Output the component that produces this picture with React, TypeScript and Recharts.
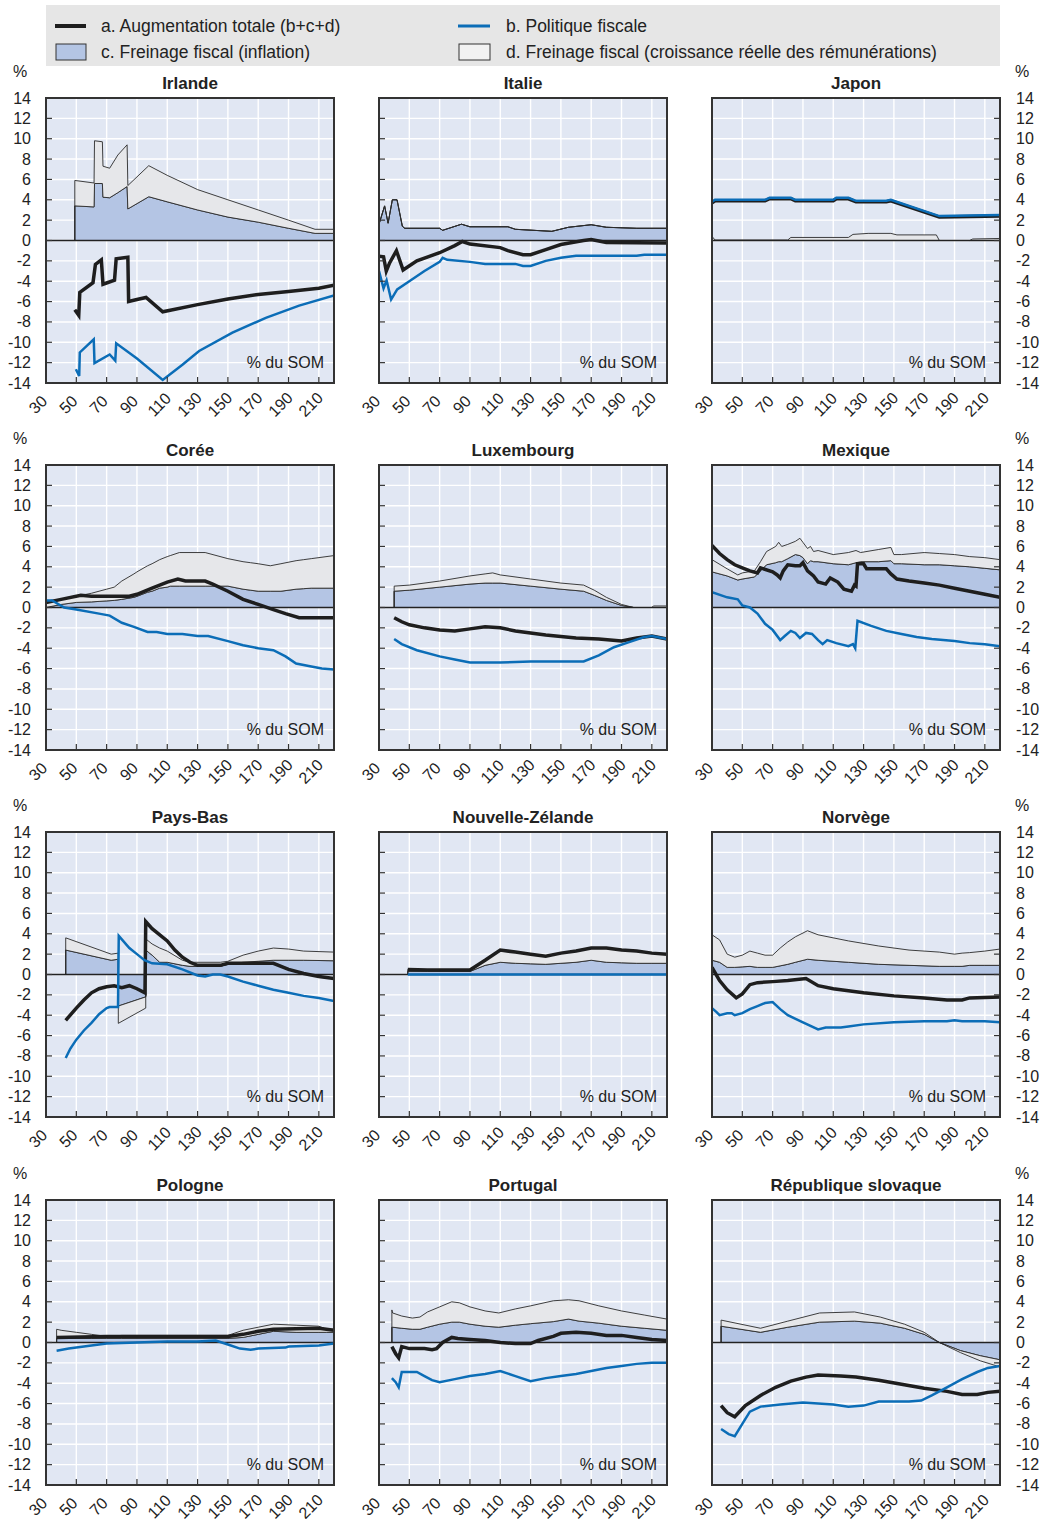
import React from 'react';
import { ComposedChart, Area, Line, XAxis, YAxis, CartesianGrid, ReferenceLine } from 'recharts';

// ---- shared axis values ----
const X_TICKS = [30, 50, 70, 90, 110, 130, 150, 170, 190, 210];
const Y_TICKS = [-14, -12, -10, -8, -6, -4, -2, 0, 2, 4, 6, 8, 10, 12, 14];

type Pair = [number, number];

// ---- Irlande ----
const irlAreaX = [49, 49, 61.7, 62, 67.2, 67.6, 72, 77.4, 83.5, 84, 97.8, 110, 130, 150, 170, 190, 207.5, 220];
const irlC = [0, 3.4, 3.3, 5.6, 5.6, 4.25, 4.2, 4.7, 5.3, 3.1, 4.3, 3.8, 3.0, 2.3, 1.8, 1.2, 0.7, 0.7];
const irlCD = [0, 5.9, 5.65, 9.8, 9.7, 7.3, 7.1, 8.4, 9.4, 5.4, 7.35, 6.4, 5.0, 4.0, 3.0, 2.0, 1.1, 1.1];
const irlA: Pair[] = [[49, -6.8], [51.6, -7.35], [52.3, -5.1], [61, -4.15], [62.6, -2.35], [66.5, -1.9], [67.6, -4.3], [75.2, -3.9], [76.3, -1.8], [84, -1.65], [84.5, -6.0], [90, -5.8], [96, -5.6], [107, -7.0], [130, -6.3], [150, -5.75], [170, -5.3], [190, -5.0], [210, -4.7], [220, -4.4]];
const irlB: Pair[] = [[49.7, -12.65], [51.9, -13.3], [52.3, -11.0], [61.5, -9.7], [62, -12.05], [72, -11.2], [75.7, -11.8], [76.3, -10.1], [90, -11.6], [107, -13.7], [120, -12.2], [131, -10.85], [153, -9.05], [175, -7.6], [197, -6.4], [220, -5.4]];

// ---- Italie ----
const itaAreaX = [30, 33.7, 36, 38.8, 41.9, 45.4, 47, 70, 72, 84.4, 90, 115, 120, 144, 155, 170, 180, 200, 220];
const itaC = [1.6, 3.4, 1.7, 4.0, 4.0, 1.4, 1.2, 1.2, 1.0, 1.6, 1.35, 1.35, 1.1, 0.9, 1.3, 1.55, 1.3, 1.2, 1.2];
const itaCD = [1.6, 3.4, 1.7, 4.0, 4.0, 1.4, 1.2, 1.2, 1.0, 1.6, 1.35, 1.35, 1.1, 0.9, 1.3, 1.55, 1.3, 1.2, 1.2];
const itaA: Pair[] = [[30, -1.55], [33, -1.6], [34.8, -3.0], [37, -2.2], [41.5, -1.0], [45.9, -2.9], [55, -2.0], [70, -1.2], [80, -0.5], [85, -0.1], [90, -0.35], [110, -0.7], [115, -1.0], [125, -1.4], [130, -1.4], [140, -0.9], [150, -0.4], [165, 0.0], [170, 0.1], [180, -0.2], [220, -0.25]];
const itaB: Pair[] = [[30, -3.0], [33, -4.7], [35, -3.9], [38, -5.8], [42, -4.8], [50, -4.0], [60, -3.0], [70, -2.1], [72, -1.7], [75, -1.9], [90, -2.1], [100, -2.3], [120, -2.3], [125, -2.5], [130, -2.5], [140, -2.0], [150, -1.7], [160, -1.5], [200, -1.5], [205, -1.4], [220, -1.4]];

// ---- Japon ----
const jpnAreaX = [30, 32, 80, 82, 120, 123, 133, 148, 152, 178, 180, 200, 202, 220];
const jpnC = [0, 0, 0, 0, 0, 0, 0, 0, 0, 0, 0, 0, 0, 0];
const jpnCD = [0.4, 0.05, 0.05, 0.3, 0.3, 0.6, 0.7, 0.7, 0.55, 0.55, 0, 0, 0.15, 0.2];
const jpnA: Pair[] = [[30, 3.7], [32, 3.9], [65, 3.9], [68, 4.1], [82, 4.1], [85, 3.9], [110, 3.9], [112, 4.1], [120, 4.1], [125, 3.8], [145, 3.8], [148, 3.9], [180, 2.3], [220, 2.4]];
const jpnB: Pair[] = [[30, 3.8], [32, 4.0], [65, 4.0], [68, 4.2], [82, 4.2], [85, 4.0], [110, 4.0], [112, 4.2], [120, 4.2], [125, 3.9], [145, 3.9], [148, 4.0], [180, 2.4], [220, 2.5]];

// ---- Corée ----
const korAreaX = [30, 40, 50, 60, 65, 70, 75, 80, 88, 90, 97, 100, 105, 110, 112, 118, 135, 150, 160, 165, 170, 178, 185, 195, 200, 205, 220];
const korC = [0.0, 0.3, 0.5, 0.55, 0.6, 0.65, 0.7, 0.8, 1.0, 1.1, 1.5, 1.6, 1.9, 2.0, 2.1, 2.1, 2.1, 2.1, 1.8, 1.7, 1.6, 1.6, 1.6, 1.8, 1.85, 1.9, 1.9];
const korCD = [0.6, 0.8, 1.1, 1.4, 1.6, 1.8, 2.0, 2.6, 3.3, 3.5, 4.1, 4.3, 4.7, 5.0, 5.1, 5.4, 5.4, 4.8, 4.5, 4.4, 4.3, 4.1, 4.3, 4.6, 4.7, 4.8, 5.1];
const korA: Pair[] = [[30, 0.5], [40, 0.8], [53, 1.2], [60, 1.1], [85, 1.1], [90, 1.3], [100, 1.9], [110, 2.5], [117, 2.8], [122, 2.6], [135, 2.6], [140, 2.3], [150, 1.6], [160, 0.8], [170, 0.3], [180, -0.2], [188, -0.6], [197, -1.0], [220, -1.0]];
const korB: Pair[] = [[30, 0.7], [34, 0.7], [42, 0.0], [50, -0.2], [65, -0.6], [72, -0.8], [80, -1.5], [88, -1.9], [97, -2.4], [103, -2.4], [110, -2.6], [120, -2.6], [130, -2.8], [137, -2.8], [150, -3.3], [160, -3.7], [170, -4.0], [180, -4.2], [188, -4.8], [195, -5.5], [205, -5.8], [212, -6.0], [220, -6.1]];

// ---- Luxembourg ----
const luxAreaX = [40, 40, 50, 70, 90, 100, 105, 110, 130, 150, 165, 172, 180, 190, 198, 210, 211, 220];
const luxC = [0, 1.6, 1.7, 2.0, 2.3, 2.4, 2.4, 2.4, 2.1, 1.8, 1.6, 1.2, 0.7, 0.2, 0, 0, 0, 0];
const luxCD = [0, 2.1, 2.2, 2.6, 3.1, 3.3, 3.4, 3.2, 2.8, 2.4, 2.2, 1.7, 1.0, 0.3, 0, 0, 0.15, 0.15];
const luxA: Pair[] = [[40, -1.0], [45, -1.4], [50, -1.7], [60, -2.0], [70, -2.2], [80, -2.3], [90, -2.1], [100, -1.9], [110, -2.0], [120, -2.3], [140, -2.7], [160, -3.0], [175, -3.1], [190, -3.3], [200, -3.0], [210, -2.8], [220, -3.1]];
const luxB: Pair[] = [[40, -3.1], [45, -3.6], [55, -4.2], [70, -4.8], [80, -5.1], [90, -5.4], [110, -5.4], [130, -5.3], [165, -5.3], [175, -4.7], [185, -3.9], [195, -3.4], [205, -2.9], [210, -2.8], [220, -3.1]];

// ---- Mexique ----
const mexAreaX = [30, 40, 47, 50, 58, 62, 66, 72, 74, 76, 80, 85, 88, 90, 93, 95, 97, 100, 110, 120, 125, 128, 140, 148, 150, 155, 170, 180, 190, 200, 210, 220];
const mexC = [3.5, 3.1, 2.7, 2.8, 3.0, 3.6, 4.2, 4.4, 4.5, 4.5, 4.8, 5.2, 5.1, 4.9, 4.3, 4.6, 4.5, 4.5, 4.3, 4.2, 4.4, 4.5, 4.5, 4.6, 4.3, 4.3, 4.2, 4.2, 4.1, 4.0, 3.85, 3.7];
const mexCD = [4.7, 3.8, 3.2, 3.4, 3.6, 4.5, 5.5, 6.0, 6.4, 6.0, 6.2, 6.5, 6.8, 6.4, 5.8, 6.0, 5.5, 5.6, 5.2, 5.4, 5.6, 5.4, 5.7, 5.9, 5.2, 5.2, 5.4, 5.3, 5.2, 5.0, 4.9, 4.7];
const mexA: Pair[] = [[30, 6.1], [35, 5.3], [40, 4.7], [45, 4.2], [50, 3.9], [55, 3.6], [60, 3.4], [62, 3.9], [70, 3.5], [73, 3.2], [75, 2.9], [77, 3.6], [80, 4.2], [85, 4.1], [88, 4.1], [90, 4.4], [93, 3.6], [97, 3.1], [100, 2.5], [105, 2.3], [108, 2.9], [113, 2.5], [117, 1.8], [122, 1.6], [124, 2.2], [125, 2.1], [126, 4.3], [130, 4.3], [132, 3.8], [145, 3.8], [148, 3.3], [152, 2.8], [160, 2.6], [170, 2.4], [180, 2.2], [190, 1.9], [200, 1.6], [210, 1.3], [220, 1.0]];
const mexB: Pair[] = [[30, 1.5], [40, 1.0], [47, 0.8], [50, 0.2], [55, 0.0], [60, -0.6], [65, -1.6], [70, -2.2], [75, -3.2], [78, -2.8], [82, -2.3], [85, -2.5], [88, -3.0], [92, -2.5], [96, -2.6], [100, -3.2], [103, -3.6], [106, -3.2], [112, -3.5], [120, -3.8], [123, -3.6], [124.5, -4.0], [126, -1.3], [135, -1.8], [145, -2.3], [155, -2.6], [165, -2.9], [175, -3.1], [190, -3.3], [200, -3.5], [210, -3.6], [220, -3.8]];

// ---- Pays-Bas ----
const nldAreaX = [43, 43, 73, 77.7, 77.7, 95.8, 95.8, 100, 105, 110, 120, 125, 145, 150, 160, 170, 180, 190, 200, 220];
const nldC = [0, 2.4, 1.4, 1.5, -3.1, -2.2, 2.4, 1.9, 1.2, 1.2, 0.9, 0.8, 0.8, 1.0, 1.2, 1.3, 1.4, 1.4, 1.4, 1.35];
const nldCD = [0, 3.6, 2.0, 2.1, -4.8, -3.3, 3.5, 3.0, 2.6, 2.3, 1.4, 1.2, 1.2, 1.3, 1.9, 2.3, 2.6, 2.5, 2.3, 2.2];
const nldA: Pair[] = [[43, -4.5], [50, -3.3], [55, -2.5], [60, -1.8], [65, -1.4], [70, -1.2], [75, -1.1], [80, -1.3], [85, -1.1], [90, -1.4], [95.3, -1.8], [95.8, 5.2], [100, 4.5], [110, 3.3], [115, 2.4], [120, 1.7], [125, 1.2], [130, 0.9], [145, 0.9], [150, 1.1], [180, 1.1], [190, 0.5], [200, 0.1], [210, -0.2], [220, -0.4]];
const nldB: Pair[] = [[43, -8.2], [46, -7.3], [50, -6.4], [55, -5.5], [60, -4.75], [65, -3.9], [70, -3.3], [72, -3.2], [77.5, -3.2], [78, 3.8], [85, 2.6], [90, 2.0], [95, 1.4], [100, 1.1], [110, 1.0], [120, 0.5], [130, -0.1], [135, -0.2], [140, 0.0], [145, 0.0], [150, -0.2], [160, -0.7], [170, -1.1], [180, -1.5], [190, -1.8], [200, -2.1], [210, -2.3], [220, -2.6]];

// ---- Nouvelle-Zélande ----
const nzlAreaX = [49, 49, 62, 90, 100, 110, 120, 130, 140, 150, 160, 170, 180, 190, 200, 210, 220];
const nzlC = [0, 0.3, 0.3, 0.3, 0.9, 1.2, 1.1, 1.05, 1.0, 1.1, 1.2, 1.4, 1.2, 1.15, 1.1, 1.1, 1.1];
const nzlCD = [0, 0.5, 0.45, 0.45, 1.4, 2.4, 2.2, 2.0, 1.8, 2.1, 2.3, 2.6, 2.6, 2.4, 2.3, 2.1, 2.0];
const nzlA: Pair[] = [[49, 0.5], [62, 0.45], [90, 0.45], [100, 1.4], [110, 2.4], [120, 2.2], [130, 2.0], [140, 1.8], [150, 2.1], [160, 2.3], [170, 2.6], [180, 2.6], [190, 2.4], [200, 2.3], [210, 2.1], [220, 2.0]];
const nzlB: Pair[] = [[49, 0], [220, 0]];

// ---- Norvège ----
const norAreaX = [30, 35, 40, 45, 50, 55, 60, 65, 70, 75, 80, 85, 93, 100, 120, 140, 160, 180, 190, 195, 200, 210, 220];
const norC = [1.4, 1.2, 0.7, 0.7, 0.75, 0.8, 0.7, 0.7, 0.7, 0.85, 1.0, 1.2, 1.5, 1.4, 1.2, 1.0, 0.9, 0.8, 0.8, 0.8, 0.9, 0.9, 0.9];
const norCD = [3.9, 3.4, 2.0, 1.7, 1.9, 2.3, 2.1, 1.9, 1.9, 2.6, 3.2, 3.7, 4.3, 3.9, 3.3, 2.8, 2.4, 2.2, 2.0, 2.1, 2.15, 2.3, 2.5];
const norA: Pair[] = [[30, 0.7], [35, -0.6], [40, -1.5], [46, -2.3], [50, -1.9], [55, -1.0], [60, -0.8], [70, -0.7], [80, -0.6], [92, -0.4], [100, -1.1], [110, -1.4], [130, -1.8], [150, -2.1], [170, -2.3], [185, -2.5], [195, -2.5], [200, -2.3], [220, -2.2]];
const norB: Pair[] = [[30, -3.3], [33, -3.7], [35, -4.0], [40, -3.8], [43, -3.8], [45, -4.0], [50, -3.8], [55, -3.4], [60, -3.1], [65, -2.8], [70, -2.7], [75, -3.4], [80, -4.0], [90, -4.7], [100, -5.4], [105, -5.2], [115, -5.2], [120, -5.1], [130, -4.9], [150, -4.7], [170, -4.6], [185, -4.6], [190, -4.5], [195, -4.6], [210, -4.6], [220, -4.7]];

// ---- Pologne ----
const polAreaX = [37, 37, 40, 50, 60, 70, 80, 150, 160, 170, 180, 195, 210, 215, 220];
const polC = [0, 0.4, 0.4, 0.4, 0.4, 0.4, 0.4, 0.4, 0.5, 0.8, 1.1, 1.0, 1.0, 1.0, 1.0];
const polCD = [0, 1.3, 1.2, 1.0, 0.8, 0.6, 0.7, 0.7, 1.2, 1.5, 1.8, 1.7, 1.6, 1.3, 1.3];
const polA: Pair[] = [[37, 0.5], [70, 0.6], [150, 0.6], [160, 0.8], [170, 1.1], [180, 1.3], [210, 1.4], [220, 1.2]];
const polB: Pair[] = [[37, -0.8], [45, -0.6], [55, -0.4], [70, -0.1], [90, 0.0], [110, 0.1], [130, 0.1], [142, 0.2], [150, -0.2], [158, -0.6], [165, -0.7], [170, -0.6], [188, -0.5], [190, -0.4], [210, -0.3], [220, -0.1]];

// ---- Portugal ----
const prtAreaX = [38.5, 38.5, 39, 45, 52, 57, 62, 70, 78, 83, 90, 100, 109, 120, 130, 145, 155, 162, 175, 190, 205, 220];
const prtC = [0, 1.5, 1.5, 1.4, 1.3, 1.3, 1.5, 1.8, 2.0, 2.0, 1.8, 1.6, 1.5, 1.7, 1.85, 2.05, 2.3, 2.1, 1.9, 1.6, 1.4, 1.2];
const prtCD = [0, 3.2, 2.9, 2.6, 2.4, 2.5, 3.0, 3.5, 4.0, 3.9, 3.5, 3.1, 2.9, 3.3, 3.6, 4.1, 4.2, 4.1, 3.6, 3.1, 2.7, 2.3];
const prtA: Pair[] = [[38.5, -0.4], [41, -1.1], [43, -1.5], [45, -0.4], [50, -0.6], [60, -0.6], [65, -0.7], [68, -0.6], [72, 0.0], [78, 0.5], [82, 0.4], [90, 0.3], [100, 0.2], [110, 0.0], [120, -0.1], [130, -0.1], [135, 0.2], [145, 0.6], [150, 0.9], [160, 1.0], [170, 0.9], [180, 0.7], [190, 0.7], [200, 0.5], [210, 0.3], [220, 0.2]];
const prtB: Pair[] = [[38.5, -3.5], [41, -3.9], [43, -4.4], [45, -2.9], [50, -2.9], [55, -2.9], [60, -3.3], [65, -3.7], [70, -3.9], [80, -3.6], [90, -3.3], [100, -3.1], [110, -2.8], [120, -3.3], [130, -3.8], [140, -3.5], [150, -3.3], [160, -3.1], [170, -2.8], [180, -2.5], [190, -2.3], [200, -2.1], [210, -2.0], [220, -2.0]];

// ---- République slovaque ----
const svkAreaX = [36, 36, 62, 80, 101, 124, 141, 157, 170, 180, 194, 207, 220];
const svkC = [0, 1.6, 1.0, 1.5, 2.0, 2.1, 1.9, 1.4, 0.8, 0.0, -0.8, -1.3, -1.7];
const svkCD = [0, 2.2, 1.4, 2.1, 2.9, 3.0, 2.5, 1.8, 1.0, 0.0, -1.0, -1.8, -2.4];
const svkA: Pair[] = [[36, -6.2], [40, -6.9], [45, -7.3], [52, -6.2], [62, -5.2], [72, -4.4], [82, -3.8], [92, -3.4], [100, -3.2], [115, -3.3], [125, -3.4], [140, -3.7], [155, -4.1], [170, -4.5], [185, -4.8], [195, -5.1], [205, -5.1], [212, -4.9], [220, -4.8]];
const svkB: Pair[] = [[36, -8.5], [41, -9.0], [45, -9.2], [50, -8.0], [55, -6.8], [62, -6.3], [75, -6.1], [90, -5.9], [100, -6.0], [110, -6.1], [120, -6.3], [130, -6.2], [140, -5.8], [160, -5.8], [168, -5.7], [175, -5.2], [185, -4.4], [195, -3.6], [205, -2.9], [212, -2.5], [220, -2.3]];

// ---- styling ----
const FONT = "'Liberation Sans', Arial, Helvetica, sans-serif";
const BG = '#E1E7F3';
const FILL_C = '#B4C5E4';
const FILL_D = '#E6E7EA';
const BLACK = '#1E1E1E';
const BLUE = '#0B6DB7';
const EDGE = '#333333';

const PLOT_W = 288;
const PLOT_H = 285;
const COL_X = [46, 379, 712];
const ROW_Y = [98, 465, 832, 1200];
const PAD_L = 45;
const PAD_R = 45;
const PAD_T = 14;
const PAD_B = 40;
const Y_MARGIN = 15;
const X_MARGIN = 14;

const makeYTick = (side: 'left' | 'right', show: boolean) => (props: any) => {
  const { x, y, payload } = props;
  if (side === 'left') {
    const edge = x + Y_MARGIN;
    return (
      <g>
        <line x1={edge} x2={edge + 6} y1={y} y2={y} stroke={EDGE} strokeWidth={1.2} />
        {show && (
          <text x={x} y={y} textAnchor="end" dominantBaseline="central" fontSize={16} fill="#222" fontFamily={FONT}>
            {payload.value}
          </text>
        )}
      </g>
    );
  }
  const edge = x - Y_MARGIN;
  return (
    <g>
      <line x1={edge} x2={edge - 6} y1={y} y2={y} stroke={EDGE} strokeWidth={1.2} />
      {show && (
        <text x={x + 1} y={y} textAnchor="start" dominantBaseline="central" fontSize={16} fill="#222" fontFamily={FONT}>
          {payload.value}
        </text>
      )}
    </g>
  );
};

const XTick = (props: any) => {
  const { x, y, payload } = props;
  const bottom = y - X_MARGIN;
  const cx = x - 8;
  const cy = bottom + 21.5;
  return (
    <g>
      <line x1={x} x2={x} y1={bottom} y2={bottom - 6} stroke={EDGE} strokeWidth={1.2} />
      <text x={cx} y={cy} textAnchor="middle" dominantBaseline="central" fontSize={16} fill="#222" fontFamily={FONT} transform={`rotate(-45 ${cx} ${cy})`}>
        {payload.value}
      </text>
    </g>
  );
};

interface PanelProps {
  title: string;
  col: number;
  row: number;
  areaX: number[];
  c: number[];
  cd: number[];
  a: Pair[];
  b: Pair[];
}

function Panel({ title, col, row, areaX, c, cd, a, b }: PanelProps) {
  const left = COL_X[col];
  const top = ROW_Y[row];
  const areaData = areaX.map((x, i) => ({ x, inf: [0, c[i]], real: [c[i], cd[i]] }));
  const aData = a.map(([x, y]) => ({ x, y }));
  const bData = b.map(([x, y]) => ({ x, y }));
  const rightSide = col === 2;

  return (
    <>
      <div style={{ position: 'absolute', left: left, top: top - 24, width: PLOT_W, textAlign: 'center', fontFamily: FONT, fontWeight: 700, fontSize: 17, lineHeight: '20px', color: '#222' }}>
        {title}
      </div>
      <div style={{ position: 'absolute', left: left - PAD_L, top: top - PAD_T }}>
        <ComposedChart
          width={PLOT_W + PAD_L + PAD_R}
          height={PLOT_H + PAD_T + PAD_B}
          data={areaData}
          margin={{ top: PAD_T, bottom: 0, left: rightSide ? PAD_L : 0, right: rightSide ? 0 : PAD_R }}
        >
          <CartesianGrid fill={BG} fillOpacity={1} stroke="#FFFFFF" strokeWidth={1.4} />
          <XAxis
            type="number"
            dataKey="x"
            domain={[30, 220]}
            ticks={X_TICKS}
            interval={0}
            allowDataOverflow
            height={PAD_B}
            axisLine={false}
            tickLine={false}
            tickSize={0}
            tickMargin={X_MARGIN}
            tick={XTick}
          />
          <YAxis
            type="number"
            orientation={rightSide ? 'right' : 'left'}
            domain={[-14, 14]}
            ticks={Y_TICKS}
            interval={0}
            allowDataOverflow
            width={rightSide ? PAD_R : PAD_L}
            axisLine={false}
            tickLine={false}
            tickSize={0}
            tickMargin={Y_MARGIN}
            tick={makeYTick(rightSide ? 'right' : 'left', col !== 1)}
          />
          <Area type="linear" dataKey="inf" fill={FILL_C} fillOpacity={1} stroke="#2A2A2A" strokeWidth={0.9} dot={false} activeDot={false} isAnimationActive={false} />
          <Area type="linear" dataKey="real" fill={FILL_D} fillOpacity={1} stroke="#2A2A2A" strokeWidth={0.9} dot={false} activeDot={false} isAnimationActive={false} />
          <ReferenceLine y={0} stroke="#222" strokeWidth={1.6} />
          <Line type="linear" data={aData} dataKey="y" stroke={BLACK} strokeWidth={3.5} dot={false} activeDot={false} isAnimationActive={false} />
          <Line type="linear" data={bData} dataKey="y" stroke={BLUE} strokeWidth={2.5} dot={false} activeDot={false} isAnimationActive={false} />
        </ComposedChart>
      </div>
      <div style={{ position: 'absolute', left: left - 1, top: top - 1, width: PLOT_W + 2, height: PLOT_H + 2, border: `2px solid ${EDGE}`, boxSizing: 'border-box', pointerEvents: 'none' }} />
      <div style={{ position: 'absolute', left: left, width: rightSide ? 274 : 278, top: top + 256, textAlign: 'right', fontFamily: FONT, fontSize: 16, lineHeight: '18px', color: '#222' }}>
        % du SOM
      </div>
      {col === 0 && (
        <div style={{ position: 'absolute', left: 12, width: 16, top: top - 35, textAlign: 'center', fontFamily: FONT, fontSize: 16, lineHeight: '18px', color: '#222' }}>%</div>
      )}
      {col === 2 && (
        <div style={{ position: 'absolute', left: 1014, width: 16, top: top - 35, textAlign: 'center', fontFamily: FONT, fontSize: 16, lineHeight: '18px', color: '#222' }}>%</div>
      )}
    </>
  );
}

function Legend() {
  const t = { fontFamily: FONT, fontSize: 17.5, fill: '#222' } as const;
  return (
    <svg width={1042} height={70} style={{ position: 'absolute', left: 0, top: 0 }}>
      <rect x={46} y={5} width={954} height={61} fill="#E6E6E6" />
      <line x1={55} x2={86} y1={26} y2={26} stroke={BLACK} strokeWidth={4} />
      <text x={101} y={26} dominantBaseline="central" {...t}>a. Augmentation totale (b+c+d)</text>
      <line x1={458} x2={490} y1={26} y2={26} stroke={BLUE} strokeWidth={3} />
      <text x={506} y={26} dominantBaseline="central" {...t}>b. Politique fiscale</text>
      <rect x={56} y={44} width={30} height={16} fill={FILL_C} stroke="#333" strokeWidth={1} />
      <text x={101} y={52} dominantBaseline="central" {...t}>c. Freinage fiscal (inflation)</text>
      <rect x={459} y={44} width={31} height={16} fill="#F2F2F2" stroke="#333" strokeWidth={1} />
      <text x={506} y={52} dominantBaseline="central" {...t}>d. Freinage fiscal (croissance réelle des rémunérations)</text>
    </svg>
  );
}

export default function App() {
  return (
    <div style={{ position: 'absolute', left: 0, top: 0, width: 1042, height: 1519, background: '#FFFFFF' }}>
      <Legend />
      <Panel title="Irlande" col={0} row={0} areaX={irlAreaX} c={irlC} cd={irlCD} a={irlA} b={irlB} />
      <Panel title="Italie" col={1} row={0} areaX={itaAreaX} c={itaC} cd={itaCD} a={itaA} b={itaB} />
      <Panel title="Japon" col={2} row={0} areaX={jpnAreaX} c={jpnC} cd={jpnCD} a={jpnA} b={jpnB} />
      <Panel title="Corée" col={0} row={1} areaX={korAreaX} c={korC} cd={korCD} a={korA} b={korB} />
      <Panel title="Luxembourg" col={1} row={1} areaX={luxAreaX} c={luxC} cd={luxCD} a={luxA} b={luxB} />
      <Panel title="Mexique" col={2} row={1} areaX={mexAreaX} c={mexC} cd={mexCD} a={mexA} b={mexB} />
      <Panel title="Pays-Bas" col={0} row={2} areaX={nldAreaX} c={nldC} cd={nldCD} a={nldA} b={nldB} />
      <Panel title="Nouvelle-Zélande" col={1} row={2} areaX={nzlAreaX} c={nzlC} cd={nzlCD} a={nzlA} b={nzlB} />
      <Panel title="Norvège" col={2} row={2} areaX={norAreaX} c={norC} cd={norCD} a={norA} b={norB} />
      <Panel title="Pologne" col={0} row={3} areaX={polAreaX} c={polC} cd={polCD} a={polA} b={polB} />
      <Panel title="Portugal" col={1} row={3} areaX={prtAreaX} c={prtC} cd={prtCD} a={prtA} b={prtB} />
      <Panel title="République slovaque" col={2} row={3} areaX={svkAreaX} c={svkC} cd={svkCD} a={svkA} b={svkB} />
    </div>
  );
}
